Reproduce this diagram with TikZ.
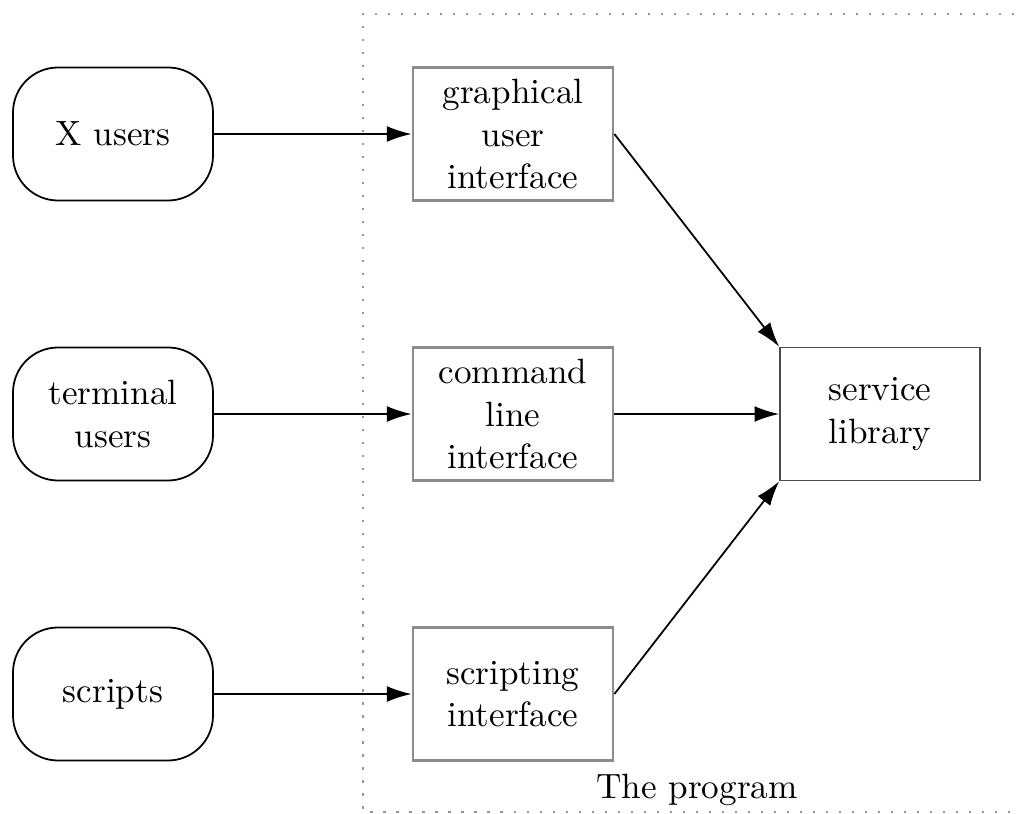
\documentclass[tikz,border=0pt]{standalone}
\usepackage{xcolor}
\usetikzlibrary{shapes.geometric,arrows.meta,positioning,calc}
\definecolor{frameline}{RGB}{150,150,150}
\definecolor{boxline}{RGB}{140,140,140}
\tikzstyle{actor}=[draw, rounded corners=.45cm, minimum width=2cm, minimum height=1.33cm, align=center, line width=.5pt]
\tikzstyle{layer}=[draw=boxline, minimum width=2cm, minimum height=1.33cm, align=center, line width=.8pt]
\tikzstyle{core}=[draw=black!70, minimum width=2cm, minimum height=1.33cm, align=center, line width=.5pt]
\tikzset{flow/.style={-{Latex[length=7pt,width=4.5pt]}, line width=.5pt}}
\tikzset{y=-1cm}
\tikzset{x=1cm}
\begin{document}
\begin{tikzpicture}
  \useasboundingbox (0,0) rectangle (10.21,8.14);
  %% The program frame
  \draw[frameline, line width=.6pt, dash pattern=on .6pt off 3.1pt] (10.4,0.14) -- (3.63,0.14) -- (3.63,8.12) -- (10.4,8.12);
  \draw (6.97,7.9) node (prog) {The program};

  \draw (1.13,1.34) node[actor] (X) {X users};
  \draw (1.13,4.14) node[actor] (T) {terminal\\users};
  \draw (1.13,6.94) node[actor] (S) {scripts};

  \draw (5.13,1.34) node[layer] (GUI) {graphical\\user\\interface};
  \draw (5.13,4.14) node[layer] (CLI) {command\\line\\interface};
  \draw (5.13,6.94) node[layer] (SI) {scripting\\interface};

  \draw (8.80,4.14) node[core] (LIB) {service\\library};

  \draw[flow] (X) -- (GUI);
  \draw[flow] (T) -- (CLI);
  \draw[flow] (S) -- (SI);

  \draw[flow] (GUI.east) -- (LIB.north west);
  \draw[flow] (CLI) -- (LIB);
  \draw[flow] (SI.east) -- (LIB.south west);
\end{tikzpicture}
\end{document}
